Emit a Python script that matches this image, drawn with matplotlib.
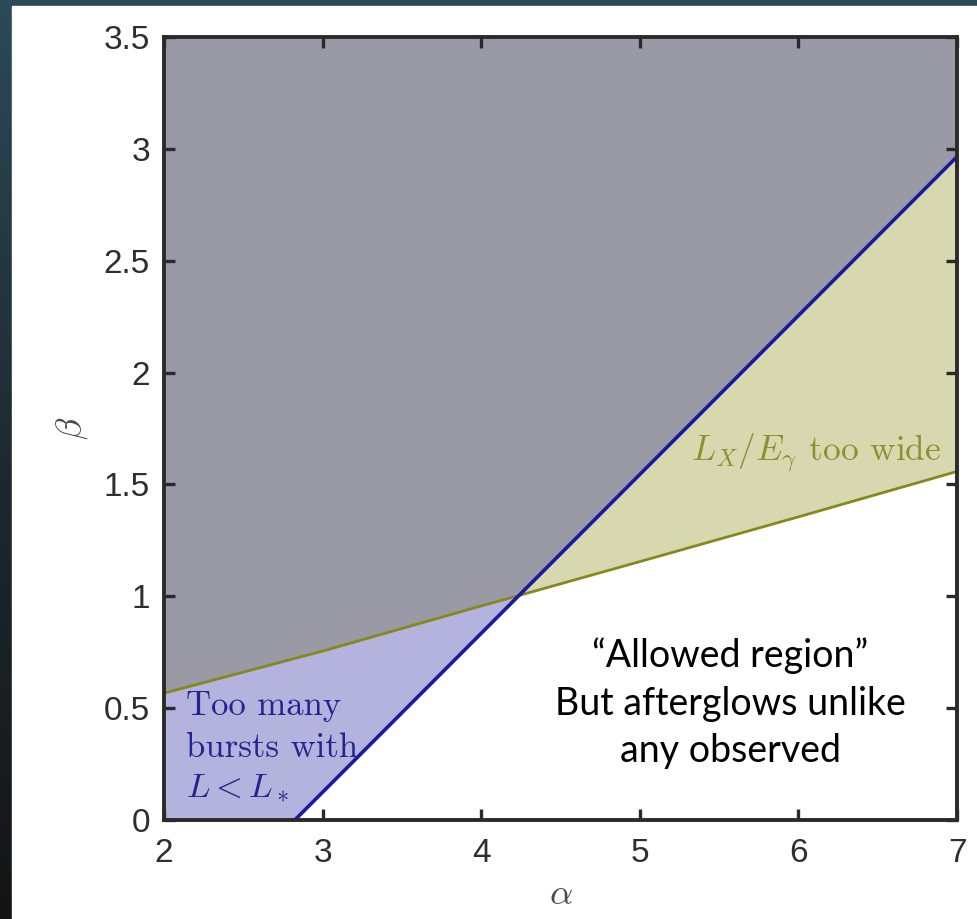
import numpy as np
import matplotlib.pyplot as plt
from matplotlib.patches import Rectangle

plt.rcParams['mathtext.fontset'] = 'cm'

# boundary lines
blue_alpha = [2.825, 7.0]
blue_beta = [0.0, 2.965]
olive_alpha = [2.0, 3.0, 4.0, 4.22, 5.0, 6.0, 7.0]
olive_beta = [0.567, 0.755, 0.957, 1.0, 1.155, 1.355, 1.558]

x_ticks = [2, 3, 4, 5, 6, 7]
y_ticks = [0, 0.5, 1, 1.5, 2, 2.5, 3, 3.5]
y_ticklabels = ['0', '0.5', '1', '1.5', '2', '2.5', '3', '3.5']

note_lines = ['\u201cAllowed region\u201d', 'But afterglows unlike', 'any observed']
blue_note = ['Too many', 'bursts with', '$L < L_*$']
olive_note = '$L_X/E_\\gamma$ too wide'

GRAY = '#9a9aa6'
BLUE_FILL = '#b3b3dd'
YELLOW_FILL = '#d8d8b0'
BLUE_LINE = '#1a1a9c'
OLIVE_LINE = '#87871c'

fig = plt.figure(figsize=(9.77, 9.19), dpi=100)

# slide background: dark gradient with the white panel on top
bg = fig.add_axes([0, 0, 1, 1], zorder=-10)
grad = np.linspace(0, 1, 256).reshape(-1, 1)
bg.imshow(grad, aspect='auto', cmap=plt.matplotlib.colors.LinearSegmentedColormap.from_list(
    'bg', ['#2c4a58', '#1e2a30', '#141416']), extent=[0, 1, 0, 1])
bg.add_patch(Rectangle((12 / 977, 0), 1, 1 - 6 / 919, color='white', zorder=2))
bg.set_xlim(0, 1)
bg.set_ylim(0, 1)
bg.axis('off')

ax = fig.add_axes([164 / 977, 1 - 820 / 919, (957 - 164) / 977, (820 - 37) / 919])

a = np.linspace(2, 7, 2001)
b_blue = np.interp(a, blue_alpha, blue_beta, left=-1.0)
b_olive = np.interp(a, olive_alpha, olive_beta)
top = np.full_like(a, 3.5)

ax.fill_between(a, np.maximum(b_blue, b_olive), top, color=GRAY, lw=0)
ax.fill_between(a, np.maximum(b_blue, 0), b_olive, where=b_blue <= b_olive,
                color=BLUE_FILL, lw=0, interpolate=True)
ax.fill_between(a, b_olive, b_blue, where=b_blue >= b_olive,
                color=YELLOW_FILL, lw=0, interpolate=True)

ax.plot(olive_alpha, olive_beta, color=OLIVE_LINE, lw=2.0)
ax.plot(blue_alpha, blue_beta, color=BLUE_LINE, lw=2.6)

ax.set_xlim(2, 7)
ax.set_ylim(0, 3.5)
ax.set_xticks(x_ticks)
ax.set_yticks(y_ticks)
ax.set_yticklabels(y_ticklabels)
ax.tick_params(direction='in', length=8, width=2.4, color='#2a2a2a',
               top=True, right=True, labelsize=24, labelcolor='#2e2e2e')
ax.tick_params(axis='y', pad=10)
ax.tick_params(axis='x', pad=13)
for lab in ax.get_xticklabels() + ax.get_yticklabels():
    lab.set_family('Liberation Sans')
for sp in ax.spines.values():
    sp.set_linewidth(2.8)
    sp.set_color('#2a2a2a')

ax.set_xlabel('$\\alpha$', fontsize=26, color='#4a4a4a', labelpad=6)
ax.set_ylabel('$\\beta$', fontsize=26, color='#4a4a4a', labelpad=10)

# blue region label
for txt, yy in zip(blue_note, [0.469, 0.281, 0.103]):
    ax.text(2.14, yy, txt, family='cmr10', fontsize=25, color='#24248f', va='baseline')

ax.text(5.32, 1.607, olive_note, family='cmr10', fontsize=25.5, color='#8f8f2e', va='baseline')

for txt, yy in zip(note_lines, [0.683, 0.469, 0.259]):
    ax.text(5.57, yy, txt, family='Lato', fontsize=27, color='black',
            ha='center', va='baseline')

fig.savefig('out.png', dpi=100)
